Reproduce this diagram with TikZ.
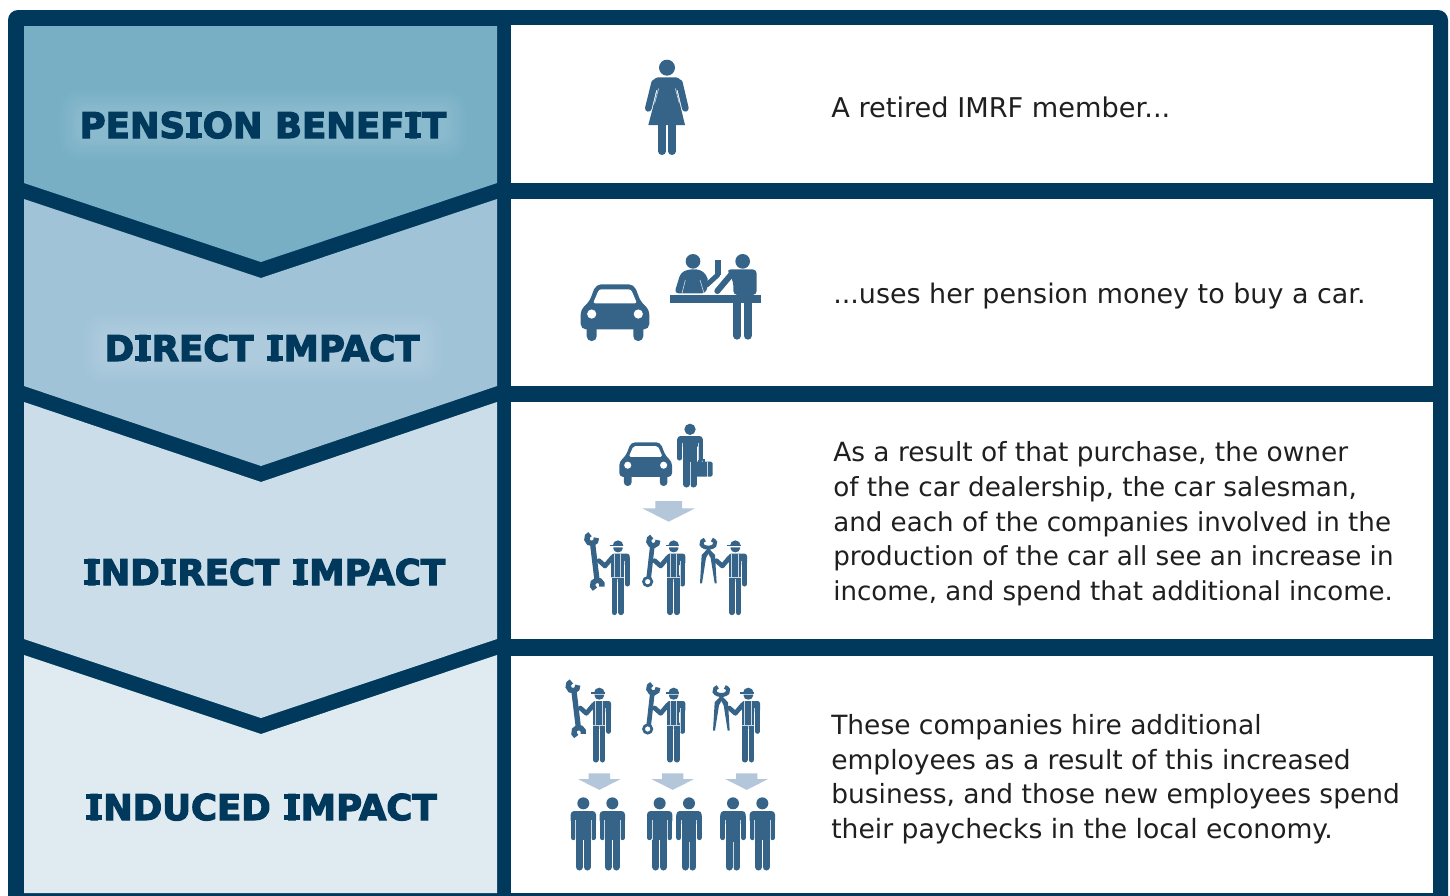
\documentclass[tikz,border=0pt]{standalone}
\usepackage{fontspec}
\setmainfont{DejaVu Sans}
\newfontfamily\titlefont[BoldFeatures={FakeBold=3.4}]{DejaVu Sans}
\newcommand{\SI}{\makebox[.5em]{\makebox[0pt]{\rule{.44em}{.135em}}\makebox[0pt]{\raisebox{.594em}{\rule{.44em}{.135em}}}\makebox[0pt]{I}}}
\definecolor{navy}{RGB}{0,57,92}
\definecolor{icon}{RGB}{54,100,137}
\definecolor{arrowc}{RGB}{180,198,218}
\definecolor{pa}{RGB}{120,175,197}
\definecolor{pb}{RGB}{161,195,216}
\definecolor{pc}{RGB}{203,221,232}
\definecolor{pd}{RGB}{224,235,241}
\tikzset{
  x=0.75pt,y=-0.75pt,
  zoomed/.style={x=0.25pt,y=-0.25pt},
  ink/.style={fill=icon,draw=none},
  limb/.style={draw=icon,line width=#1*0.25pt,line cap=round,line join=round},
  tool/.style={draw=icon,line width=#1*0.25pt,line cap=butt},
  gap/.style={draw=white,line width=0.3pt,opacity=0.75},
  body/.style={anchor=base west,inner sep=0pt,text=black!88,font=\fontsize{#1}{24}\selectfont},
  heading/.style={anchor=base,inner sep=0pt,text=navy,font=\titlefont\bfseries\fontsize{26.6}{30}\selectfont},
  man/.pic={
    \fill[ink] (0,0) circle (18);
    \fill[ink,rounded corners=2.6pt] (-38,23) rectangle (38,62);
    \draw[limb=15] (-30.5,40)--(-30.5,103) (30.5,40)--(30.5,103);
    \fill[ink] (-22,40) rectangle (22,110);
    \draw[limb=21] (-11.5,100)--(-11.5,191);
    \draw[limb=21] (11.5,100)--(11.5,191);
    \draw[gap] (-23,50)--(-23,110) (23,50)--(23,110) (0,115)--(0,202);
  },
  worker/.pic={
    \fill[ink] (-15,-3) arc (180:360:16) -- cycle;
    \fill[ink] (-23,-5) rectangle (17,-1);
    \fill[ink] (-13,2) -- (15,2) -- (15,6) arc (0:180:14 and 11) -- cycle;
    \fill[ink,rounded corners=1.8pt] (-19,21) rectangle (36,55);
    \draw[limb=15] (28.5,35)--(28.5,112);
    \fill[ink] (-19,30) rectangle (18,93);
    \draw[limb=14] (-16,32)--(-38,58)--(-56,42);
    \draw[limb=17] (-10,90)--(-10,197);
    \draw[limb=17] (10,90)--(10,197);
    \fill[ink] (-18,90) rectangle (18,105);
    \draw[gap] (-10,22)--(-10,92) (9,22)--(9,92) (-19,93)--(19,93) (0,97)--(0,205) (20,42)--(20,115);
  },
  spanner/.pic={
    \draw[tool=16] (-75,-8)--(-62,100);
    \draw[tool=16] (-78,-24)+(-10:14.5) arc (-10:250:14.5);
    \draw[tool=16] (-61,115)+(120:14.5) arc (120:380:14.5);
  },
  combo/.pic={
    \draw[tool=14] (-63,-2)--(-74,95);
    \draw[tool=15] (-60,-17)+(-10:14) arc (-10:250:14);
    \draw[tool=8] (-77,105) circle (12.5);
  },
  pincer/.pic={
    \fill[ink] (-82,6) -- (-100,25) -- (-105,110) -- (-99,110) -- (-87,34) -- (-75,12) -- cycle;
    \fill[ink] (-78,6) -- (-60,25) -- (-55,110) -- (-61,110) -- (-73,34) -- (-85,12) -- cycle;
    \draw[tool=12] (-80,-10)+(-60:21 and 13) arc (-60:240:21 and 13);
  },
  car/.pic={
    \fill[ink,rounded corners=#1*1.3pt] (-19,0) -- (19,0) -- (26,18) -- (34.3,25) -- (34.3,45) -- (-34.3,45) -- (-34.3,25) -- (-26,18) -- cycle;
    \fill[ink,rounded corners=#1*1.2pt] (-28.3,40) rectangle (-18.3,56.7);
    \fill[ink,rounded corners=#1*1.2pt] (18.3,40) rectangle (28.3,56.7);
    \fill[white,rounded corners=#1*.6pt] (-16,5) -- (16,5) -- (22,19) -- (-22,19) -- cycle;
    \fill[white] (-23.3,29.7) circle (4.6) (23.3,29.7) circle (4.6);
  },
}
\newcommand{\downarrowshape}[3]{% centre x, top y, scale
  \fill[arrowc] (#1,#2) ++(-40*#3,0) -- ++(80*#3,0) -- ++(0,22*#3) -- ++(39*#3,0) -- ++(-79*#3,40*#3) -- ++(-79*#3,-40*#3) -- ++(39*#3,0) -- cycle;}
\newcommand{\glow}[5]{% colour, x1 y1 x2 y2
  \foreach \g in {0,...,11}{
    \pgfmathsetmacro{\mixval}{99-\g*1.15}
    \fill[#1!\mixval!white,rounded corners={(20-\g)*0.75pt}] ({#2-22+1.9*\g},{#3-22+1.9*\g}) rectangle ({#4+22-1.9*\g},{#5+22-1.9*\g});}}
\begin{document}
\begin{tikzpicture}
\useasboundingbox (0,0) rectangle (1450,896);
\fill[white] (0,0) rectangle (1450,896);
\begin{scope}
\clip (0,0) rectangle (1450,896);
\fill[navy,rounded corners=7.5pt] (8,10) rectangle (1448,940);
\end{scope}
% right hand panels
\fill[white] (511,25) rectangle (1433,183);
\fill[white] (511,199) rectangle (1433,386);
\fill[white] (511,402) rectangle (1433,639);
\fill[white] (511,656) rectangle (1433,893);
% left hand panels
\fill[pd] (24,655) -- (261,734) -- (497,655) -- (497,893) -- (24,893) -- cycle;
\fill[pc] (24,402) -- (261,482) -- (497,402) -- (497,639) -- (261,718) -- (24,639) -- cycle;
\fill[pb] (24,199) -- (261,278) -- (497,199) -- (497,386) -- (261,466) -- (24,386) -- cycle;
\fill[pa] (24,26) -- (497,26) -- (497,183) -- (261,262) -- (24,183) -- cycle;
% glows
\glow{pa}{81}{112}{445}{138}
\glow{pb}{105}{335}{420}{361}
% headings
\node[heading] (h1) at (263,138) {PENS\SI ON BENEF\SI T};
\node[heading] (h2) at (262,361) {D\SI RECT \SI MPACT};
\node[heading] (h3) at (264,585) {\SI ND\SI RECT \SI MPACT};
\node[heading] (h4) at (261,820) {\SI NDUCED \SI MPACT};
% texts
\node[body=20.4] (t1) at (831,117) {A retired IMRF member...};
\node[body=20.2] (t2) at (833,303) {...uses her pension money to buy a car.};
\node[body=19.8] (t3a) at (833,461) {As a result of that purchase, the owner};
\node[body=19.7] (t3b) at (833,496) {of the car dealership, the car salesman,};
\node[body=19.6] (t3c) at (833,531) {and each of the companies involved in the};
\node[body=19.65] (t3d) at (833,565) {production of the car all see an increase in};
\node[body=19.55] (t3e) at (833,600) {income, and spend that additional income.};
\node[body=19.85] (t4a) at (831,734) {These companies hire additional};
\node[body=19.9] (t4b) at (831,769) {employees as a result of this increased};
\node[body=19.85] (t4c) at (831,803) {business, and those new employees spend};
\node[body=19.95] (t4d) at (831,838) {their paychecks in the local economy.};
% woman, car, counter
\begin{scope}[shift={(560,40)},zoomed]
  \fill[ink] (321,83) circle (24);
  \fill[ink,rounded corners=3pt] (282,112) -- (360,112) -- (368,150) -- (274,150) -- cycle;
  \draw[limb=20] (284,128)--(265,205);
  \draw[limb=20] (358,128)--(376,205);
  \fill[ink] (295,140) -- (347,140) -- (375,255) -- (265,255) -- cycle;
  \draw[gap,line width=0.45pt] (296,145)--(284,190) (346,145)--(358,190);
  \draw[limb=22] (306,240)--(306,334);
  \draw[limb=22] (336,240)--(336,334);
  \pic at (165,733) [scale=3] {car={3}};
  % counter
  \fill[ink] (331,765) rectangle (602,788);
  \fill[ink] (399,664) circle (22);
  \fill[ink] (548,664) circle (22);
  \fill[ink,rounded corners=3pt] (343,760) -- (362,698) -- (385,688) -- (420,688) -- (440,705) -- (445,725) -- (438,760) -- cycle;
  \draw[limb=15] (440,735)--(473,705);
  \fill[ink] (465,660) rectangle (484,705);
  \draw[gap,line width=.45pt] (376,720)--(366,760) (420,720)--(432,760);
  \fill[ink,rounded corners=3pt] (500,688) -- (590,688) -- (590,765) -- (520,765) -- (520,725) -- cycle;
  \draw[limb=18] (515,702)--(472,753);
  \draw[limb=24] (531,780)--(531,887);
  \draw[limb=24] (563,780)--(563,887);
\end{scope}
% indirect
\begin{scope}[shift={(570,415)},zoomed]
  \pic at (227,82) [scale=2.31] {car={2.31}};
  \fill[ink] (360,43) circle (17);
  \fill[ink,rounded corners=2.4pt] (322,63) rectangle (398,95);
  \draw[limb=13] (328.5,75)--(328.5,130);
  \draw[limb=13] (391.5,75)--(391.5,135);
  \fill[ink] (338,80) rectangle (382,140);
  \draw[limb=19] (349.5,130)--(349.5,208);
  \draw[limb=19] (370.5,130)--(370.5,208);
  \draw[tool=4] (385,141)--(385,133)--(402,133)--(402,141);
  \fill[ink,rounded corners=1.2pt] (375,140) rectangle (428,185);
  \draw[gap] (335.5,85)--(335.5,135) (384.5,85)--(384.5,135) (360,140)--(360,217) (412,142)--(412,185);
  \downarrowshape{296}{258}{1}
  \pic at (143,395) {worker}; \pic at (143,395) {spanner};
  \pic at (310,395) {worker}; \pic at (310,395) {combo};
  \pic at (495,395) {worker}; \pic at (495,395) {pincer};
\end{scope}
% induced
\begin{scope}[shift={(550,670)},zoomed]
  \pic at (147,72) {worker}; \pic at (147,72) {spanner};
  \pic at (370,72) {worker}; \pic at (370,72) {combo};
  \pic at (594,72) {worker}; \pic at (594,72) {pincer};
  \downarrowshape{148}{310}{.8}
  \downarrowshape{368}{310}{.8}
  \downarrowshape{590}{310}{.8}
  \foreach \hx in {100,187,329,417,549,637}{
    \pic at (\hx,400) {man};}
\end{scope}
\end{tikzpicture}
\end{document}
